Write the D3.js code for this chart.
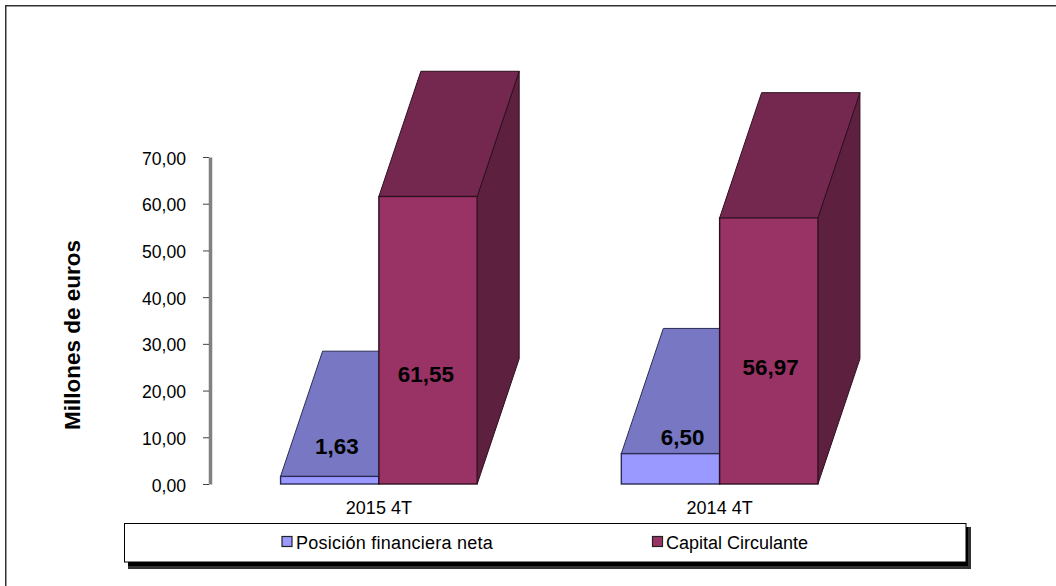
<!DOCTYPE html>
<html>
<head>
<meta charset="utf-8">
<script src="https://cdn.jsdelivr.net/npm/d3@7"></script>
<style>
  html, body { margin: 0; padding: 0; background: #fff; }
  text { font-family: "Liberation Sans", Arial, sans-serif; fill: #000; }
</style>
</head>
<body>
<svg id="chart" width="1056" height="586" style="display:block"></svg>
<script>
// data
var categories = ["2015 4T", "2014 4T"];
var seriesNames = ["Posición financiera neta", "Capital Circulante"];
var posicion = [1.63, 6.50];
var capital = [61.55, 56.97];
var yTicks = [0, 10, 20, 30, 40, 50, 60, 70];

var colors = [
    { front: "#9999ff", top: "#7777c4", side: "#5c5c9c", line: "#2b2b55" },
    { front: "#993366", top: "#75284f", side: "#5e203f", line: "#2e0f1f" }
];

var svg = d3.select("#chart");

function fmt(v) {
    return v.toFixed(2).replace(".", ",");
}

// scales
var y = d3.scaleLinear().domain([0, 70]).range([484, 157]);
var x = d3.scaleBand().domain(categories).range([208.5, 890]);
var barWidth = 98.3;
var depthX = 42;
var depthY = -125.2;

// frame, only top and left are visible in the window
svg.append("rect")
    .attr("x", 5.75).attr("y", 5.75)
    .attr("width", 1060).attr("height", 600)
    .attr("fill", "#fff").attr("stroke", "#333").attr("stroke-width", 1.5);

// y axis
var yAxis = d3.axisLeft(y)
    .tickValues(yTicks)
    .tickSizeInner(6)
    .tickSizeOuter(0)
    .tickPadding(18)
    .tickFormat(fmt);
var yG = svg.append("g").attr("transform", "translate(210,0)").call(yAxis);
yG.select(".domain").attr("stroke", "#808080").attr("stroke-width", 3.5);
yG.selectAll(".tick line").attr("stroke", "#444").attr("x1", -1).attr("x2", -7);
yG.selectAll("text")
    .attr("font-size", 17.6)
    .attr("dy", 7)
    .attr("font-family", "Liberation Sans, Arial, sans-serif")
    .attr("fill", "#000");

// x axis labels
var xAxis = d3.axisBottom(x).tickSize(0).tickPadding(17);
var xG = svg.append("g").attr("transform", "translate(0,484)").call(xAxis);
xG.select(".domain").remove();
xG.selectAll("text")
    .attr("font-size", 18)
    .attr("font-family", "Liberation Sans, Arial, sans-serif")
    .attr("fill", "#000");

// bars, blue box first so the red front covers it
function box(g, x0, v, c) {
    var x1 = x0 + barWidth;
    var yv = y(v), y0 = y(0);
    g.append("path")
        .attr("d", d3.line()([[x1, y0], [x1 + depthX, y0 + depthY], [x1 + depthX, yv + depthY], [x1, yv]]))
        .attr("fill", c.side).attr("stroke", c.line).attr("stroke-width", 1);
    g.append("path")
        .attr("d", d3.line()([[x0, yv], [x0 + depthX, yv + depthY], [x1 + depthX, yv + depthY], [x1, yv]]))
        .attr("fill", c.top).attr("stroke", c.line).attr("stroke-width", 1);
    g.append("rect")
        .attr("x", x0).attr("y", yv)
        .attr("width", barWidth).attr("height", y0 - yv)
        .attr("fill", c.front).attr("stroke", c.line).attr("stroke-width", 1.4);
}

var groups = svg.selectAll("g.cat")
    .data(categories)
    .enter().append("g")
    .attr("class", "cat");

groups.each(function (d, i) {
    var g = d3.select(this);
    var mid = x(d) + x.bandwidth() / 2;
    box(g, mid - barWidth, posicion[i], colors[0]);
    box(g, mid, capital[i], colors[1]);
});

// value labels, placed relative to the bars
var posicionDx = [-42, -37], posicionDy = [-22, -9];
var capitalDx = [47, 51], capitalDy = [186, 157];
groups.each(function (d, i) {
    var g = d3.select(this);
    var mid = x(d) + x.bandwidth() / 2;
    g.append("text")
        .attr("x", mid + posicionDx[i]).attr("y", y(posicion[i]) + posicionDy[i])
        .attr("text-anchor", "middle")
        .attr("font-size", 22.4).attr("font-weight", "bold")
        .text(fmt(posicion[i]));
    g.append("text")
        .attr("x", mid + capitalDx[i]).attr("y", y(capital[i]) + capitalDy[i])
        .attr("text-anchor", "middle")
        .attr("font-size", 22.4).attr("font-weight", "bold")
        .text(fmt(capital[i]));
});

// y title
svg.append("text")
    .attr("transform", "translate(80,335) rotate(-90)")
    .attr("text-anchor", "middle")
    .attr("font-size", 22.5).attr("font-weight", "bold")
    .text("Millones de euros");

// legend with its double shadow
svg.append("rect")
    .attr("x", 128).attr("y", 527).attr("width", 843).attr("height", 42)
    .attr("fill", "#333");
svg.append("rect")
    .attr("x", 128).attr("y", 527).attr("width", 840).attr("height", 39)
    .attr("fill", "#000");
svg.append("rect")
    .attr("x", 124.5).attr("y", 523.5).attr("width", 841.5).attr("height", 38.5)
    .attr("fill", "#fff").attr("stroke", "#000").attr("stroke-width", 1);

var legendX = [282, 652.5];
var legendText = [296, 666];
var legendSpacing = [0.25, 0];
seriesNames.forEach(function (name, i) {
    svg.append("rect")
        .attr("x", legendX[i]).attr("y", 536.5)
        .attr("width", 10).attr("height", 10)
        .attr("fill", colors[i].front).attr("stroke", "#222").attr("stroke-width", 1.2);
    svg.append("text")
        .attr("x", legendText[i]).attr("y", 548.5)
        .attr("font-size", 18)
        .attr("letter-spacing", legendSpacing[i])
        .text(name);
});
</script>
</body>
</html>
